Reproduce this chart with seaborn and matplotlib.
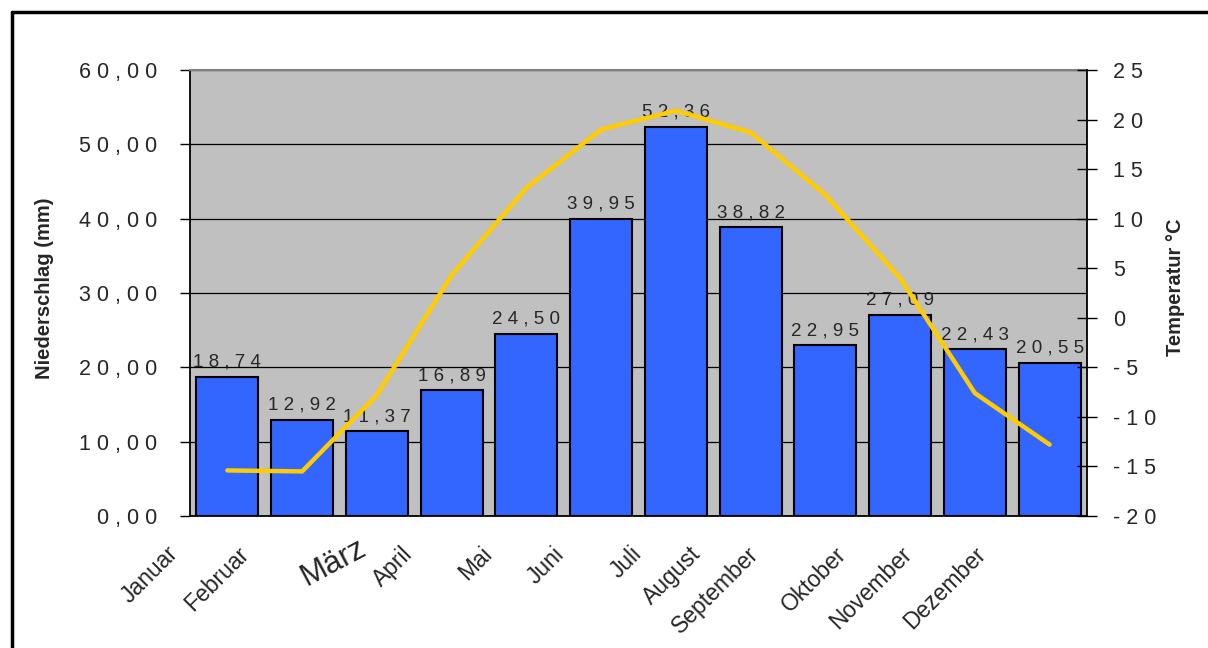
import numpy as np
import pandas as pd
import matplotlib
matplotlib.use("Agg")
import matplotlib.pyplot as plt
import matplotlib.transforms as mtransforms
from matplotlib.lines import Line2D
from matplotlib.textpath import TextPath
from matplotlib.font_manager import FontProperties
import seaborn as sns

# ---- data ----
months = ["Januar", "Februar", "März", "April", "Mai", "Juni", "Juli",
          "August", "September", "Oktober", "November", "Dezember"]
precip = [18.74, 12.92, 11.37, 16.89, 24.50, 39.95, 52.36, 38.82,
          22.95, 27.09, 22.43, 20.55]
temps = [-15.4, -15.5, -7.8, 4.3, 13.1, 19.0, 20.9, 18.7, 12.4, 4.0, -7.6, -12.8]
left_ticks = [0, 10, 20, 30, 40, 50, 60]
right_ticks = [-20, -15, -10, -5, 0, 5, 10, 15, 20, 25]

def spaced(s):
    return " ".join(list(s))

def de2(v):
    return f"{v:.2f}".replace(".", ",")

sns.set_style("white")
plt.rcParams["font.family"] = ["Liberation Sans", "DejaVu Sans"]

W, H = 1208, 648
fig = plt.figure(figsize=(W / 100, H / 100), dpi=100)
fig.patch.set_facecolor("white")

x0, x1, y0, y1 = 190, 1087, 70, 516
ax = fig.add_axes([x0 / W, 1 - y1 / H, (x1 - x0) / W, (y1 - y0) / H])

df = pd.DataFrame({"Monat": months, "Niederschlag": precip})
sns.barplot(data=df, x="Monat", y="Niederschlag", ax=ax, color="#3366FF",
            saturation=1, edgecolor="black", linewidth=1.5, width=0.83, zorder=3)
ax.set_facecolor("#C0C0C0")
ax.set_ylim(0, 60)
ax.set_yticks(left_ticks)
ax.set_yticklabels([spaced(de2(v)) for v in left_ticks], fontsize=15.5)
ax.yaxis.grid(True, color="black", linewidth=0.9)
ax.set_axisbelow(True)
ax.tick_params(axis="y", direction="out", length=7, width=1, pad=16.5, color="black")

labels = [spaced(de2(v)) for v in precip]
ax.bar_label(ax.containers[0], labels=labels, padding=4.5, fontsize=13.5, zorder=5)

for s in ["left", "bottom"]:
    ax.spines[s].set_color("black")
    ax.spines[s].set_linewidth(1.3)
ax.spines["top"].set_color("#808080")
ax.spines["top"].set_linewidth(1.5)
ax.spines["right"].set_visible(False)

ax.set_ylabel("Niederschlag (mm)", fontsize=14.5, fontweight="bold")
ax.yaxis.set_label_coords(-0.152, 0.51)
ax.set_xlabel("")

# Temperature line on twin axis
ax2 = ax.twinx()
pos = np.arange(len(months))
sns.lineplot(x=pos, y=temps, ax=ax2, color="#FFCC00", linewidth=3.2, zorder=6)
ax2.set_ylim(-20, 25)
ax2.set_yticks(right_ticks)
ax2.set_yticklabels([spaced(str(v)) for v in right_ticks], fontsize=15.5)
ax2.tick_params(axis="y", direction="inout", length=15, width=1, pad=11.5, color="black")
for s in ["left", "top", "bottom"]:
    ax2.spines[s].set_visible(False)
ax2.spines["right"].set_color("black")
ax2.spines["right"].set_linewidth(1.3)
ax2.set_ylabel("Temperatur °C", fontsize=14.5, fontweight="bold")
ax2.yaxis.set_label_coords(1.088, 0.513)

# x axis: ticks at category boundaries
ax.set_xlim(-0.5, len(months) - 0.5)
ax2.set_xlim(-0.5, len(months) - 0.5)
ax.set_xticks(pos - 0.5)
ax.set_xticklabels(months, rotation=45, ha="right", va="center",
                   rotation_mode="anchor")
ax.tick_params(axis="x", direction="out", length=6, width=1, pad=0, color="black")
fp = FontProperties(family="Liberation Sans")
for i, lab in enumerate(ax.get_xticklabels()):
    txt = lab.get_text()
    lab.set_fontsize(16.5)
    w_em = TextPath((0, 0), txt, size=1, prop=fp).get_extents().width
    dx = -(9.5 * (w_em - 1.6)) - 2
    dy = -26
    if txt == "März":
        lab.set_fontsize(22.5)
        lab.set_rotation(28)
        dx, dy = 24, -22
    lab.set_transform(lab.get_transform() +
                      mtransforms.ScaledTranslation(dx / 100, dy / 100, fig.dpi_scale_trans))

# figure border (left and top)
fig.add_artist(Line2D([12 / W, 12 / W], [0, 1 - 12 / H], color="black", linewidth=2.5))
fig.add_artist(Line2D([12 / W, 1], [1 - 12 / H, 1 - 12 / H], color="black", linewidth=2.5))

fig.savefig("out.png", dpi=100)
